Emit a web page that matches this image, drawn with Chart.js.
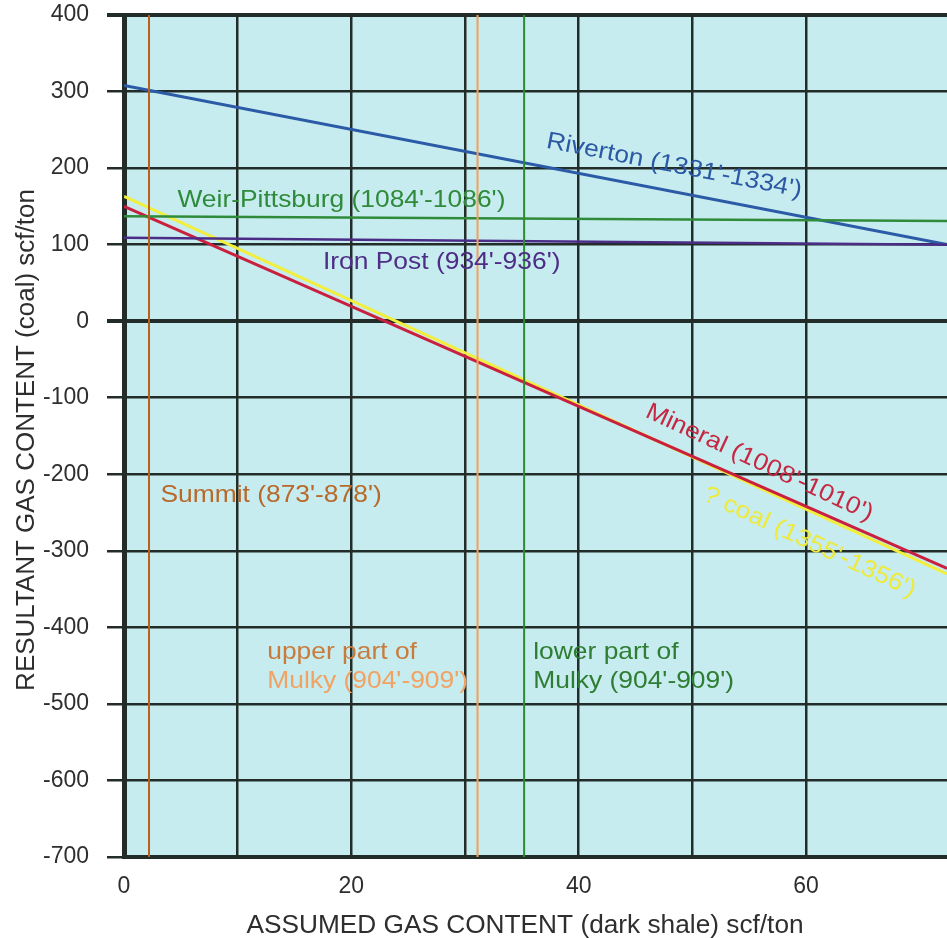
<!DOCTYPE html>
<html>
<head>
<meta charset="utf-8">
<title>Resultant gas content</title>
<script src="https://cdn.jsdelivr.net/npm/chart.js@4.4.0/dist/chart.umd.min.js"></script>
<style>
  html, body { margin: 0; padding: 0; background: #fff; }
  #wrap { width: 947px; height: 938px; }
</style>
</head>
<body>
<div id="wrap"><canvas id="gasChart" width="947" height="938"></canvas></div>
<script>
// assumed gas content (dark shale), scf/ton - ends of each line
const shaleRange = [0, 72.4];

// resultant gas content (coal), scf/ton, at each end of shaleRange
const riverton = [308, 100];
const weirPittsburg = [137, 131];
const ironPost = [109, 100];
const mineral = [150, -323];
const qCoal = [163, -330];

// zones that plot as vertical lines (shale value where they sit)
const summitX = 2.2;
const upperMulkyX = 31.1;
const lowerMulkyX = 35.2;

const yTicks = [400, 300, 200, 100, 0, -100, -200, -300, -400, -500, -600, -700];
const xTickLabels = [0, 20, 40, 60];

const FONT = '"Liberation Sans", Arial, Helvetica, sans-serif';
const GRID = '#222c28';

function sloped(vals) {
  return shaleRange.map((x, i) => ({ x: x, y: vals[i] }));
}
function vertical(x) {
  return [{ x: x, y: yTicks[yTicks.length - 1] }, { x: x, y: yTicks[0] }];
}

// text labels placed in data units
const labels = [
  { text: "Riverton (1331'-1334')", x: 48.4, y: 203, color: '#2c58a4', angle: 11, align: 'center' },
  { text: "Weir-Pittsburg (1084'-1086')", x: 4.7, y: 158, color: '#2f8a3a', angle: 0, align: 'left' },
  { text: "Iron Post (934'-936')", x: 17.5, y: 77, color: '#4e2d86', angle: 0, align: 'left' },
  { text: "Mineral (1008'-1010')", x: 55.9, y: -185, color: '#c42843', angle: 25, align: 'center' },
  { text: "? coal (1355'-1356')", x: 60.3, y: -289, color: '#eeea3c', angle: 25, align: 'center' },
  { text: "Summit (873'-878')", x: 3.2, y: -227, color: '#b8692a', angle: 0, align: 'left' },
  { text: 'upper part of', x: 12.6, y: -433, color: '#c87b3c', angle: 0, align: 'left' },
  { text: "Mulky (904'-909')", x: 12.6, y: -471, color: '#f2a262', angle: 0, align: 'left' },
  { text: 'lower part of', x: 36.0, y: -433, color: '#2e7d32', angle: 0, align: 'left' },
  { text: "Mulky (904'-909')", x: 36.0, y: -471, color: '#2e7d32', angle: 0, align: 'left' }
];

const plotBackground = {
  id: 'plotBackground',
  beforeDraw(chart) {
    const a = chart.chartArea;
    const ctx = chart.ctx;
    ctx.save();
    ctx.fillStyle = '#c6ecef';
    ctx.fillRect(a.left, a.top, a.right - a.left, a.bottom - a.top);
    ctx.restore();
  }
};

const textLayer = {
  id: 'textLayer',
  afterDatasetsDraw(chart) {
    const ctx = chart.ctx;
    const xs = chart.scales.x, ys = chart.scales.y;
    labels.forEach(l => {
      ctx.save();
      ctx.translate(xs.getPixelForValue(l.x), ys.getPixelForValue(l.y));
      ctx.rotate(l.angle * Math.PI / 180);
      ctx.scale(1.1, 1);
      ctx.font = '24px ' + FONT;
      ctx.fillStyle = l.color;
      ctx.textAlign = l.align;
      ctx.textBaseline = 'middle';
      ctx.fillText(l.text, 0, 0);
      ctx.restore();
    });

    // axis titles
    const a = chart.chartArea;
    ctx.save();
    ctx.fillStyle = '#2e2e2e';
    ctx.textAlign = 'center';
    ctx.textBaseline = 'middle';
    ctx.font = '25px ' + FONT;
    ctx.translate(525, 926);
    ctx.scale(1.05, 1);
    ctx.fillText('ASSUMED GAS CONTENT (dark shale) scf/ton', 0, 0);
    ctx.restore();

    ctx.save();
    ctx.fillStyle = '#2e2e2e';
    ctx.textAlign = 'center';
    ctx.textBaseline = 'middle';
    ctx.font = '26px ' + FONT;
    ctx.translate(27, (a.top + a.bottom) / 2 + 4);
    ctx.rotate(-Math.PI / 2);
    ctx.fillText('RESULTANT GAS CONTENT (coal) scf/ton', 0, 0);
    ctx.restore();
  }
};

function lineSet(label, data, color, width) {
  return {
    label: label,
    data: data,
    borderColor: color,
    borderWidth: width,
    pointRadius: 0,
    fill: false,
    tension: 0
  };
}

const ctx = document.getElementById('gasChart').getContext('2d');
new Chart(ctx, {
  type: 'line',
  data: {
    datasets: [
      lineSet('Summit', vertical(summitX), '#b8611c', 2),
      lineSet('upper Mulky', vertical(upperMulkyX), '#f5a05a', 2),
      lineSet('lower Mulky', vertical(lowerMulkyX), '#2e8a2e', 2),
      lineSet('Weir-Pittsburg', sloped(weirPittsburg), '#2f8b3a', 2.5),
      lineSet('Iron Post', sloped(ironPost), '#4b2d88', 2.5),
      lineSet('Riverton', sloped(riverton), '#2b5aa6', 3),
      lineSet('Mineral', sloped(mineral), '#c9203f', 3),
      lineSet('? coal', sloped(qCoal), '#f2ee3c', 3)
    ]
  },
  options: {
    responsive: false,
    animation: false,
    layout: { padding: { top: 15, right: 0, bottom: 0, left: 0 } },
    plugins: {
      legend: { display: false },
      tooltip: { enabled: false }
    },
    scales: {
      x: {
        type: 'linear',
        min: shaleRange[0],
        max: shaleRange[1],
        afterBuildTicks: axis => {
          axis.ticks = axis.ticks.filter(t => t.value % 10 === 0);
        },
        afterFit: axis => { axis.height = 81; },
        ticks: {
          stepSize: 10,
          padding: 16,
          maxRotation: 0,
          autoSkip: false,
          color: '#2e2e2e',
          font: { family: FONT, size: 23 },
          callback: v => (xTickLabels.includes(v) ? String(v) : '')
        },
        grid: {
          color: GRID,
          lineWidth: 2.5,
          drawTicks: false
        },
        border: { color: GRID, width: 4 }
      },
      y: {
        type: 'linear',
        min: yTicks[yTicks.length - 1],
        max: yTicks[0],
        afterFit: axis => {
          axis.width = 124;
          // top/bottom room is set by layout padding instead
          axis.paddingTop = 0;
          axis.paddingBottom = 0;
        },
        ticks: {
          stepSize: 100,
          padding: 18,
          color: '#2e2e2e',
          font: { family: FONT, size: 23 }
        },
        grid: {
          color: GRID,
          lineWidth: c => (c.tick && (c.tick.value === 0 || c.tick.value === 400) ? 4 : 2.5),
          tickLength: 17
        },
        border: { color: GRID, width: 5 }
      }
    }
  },
  plugins: [plotBackground, textLayer]
});
</script>
</body>
</html>
